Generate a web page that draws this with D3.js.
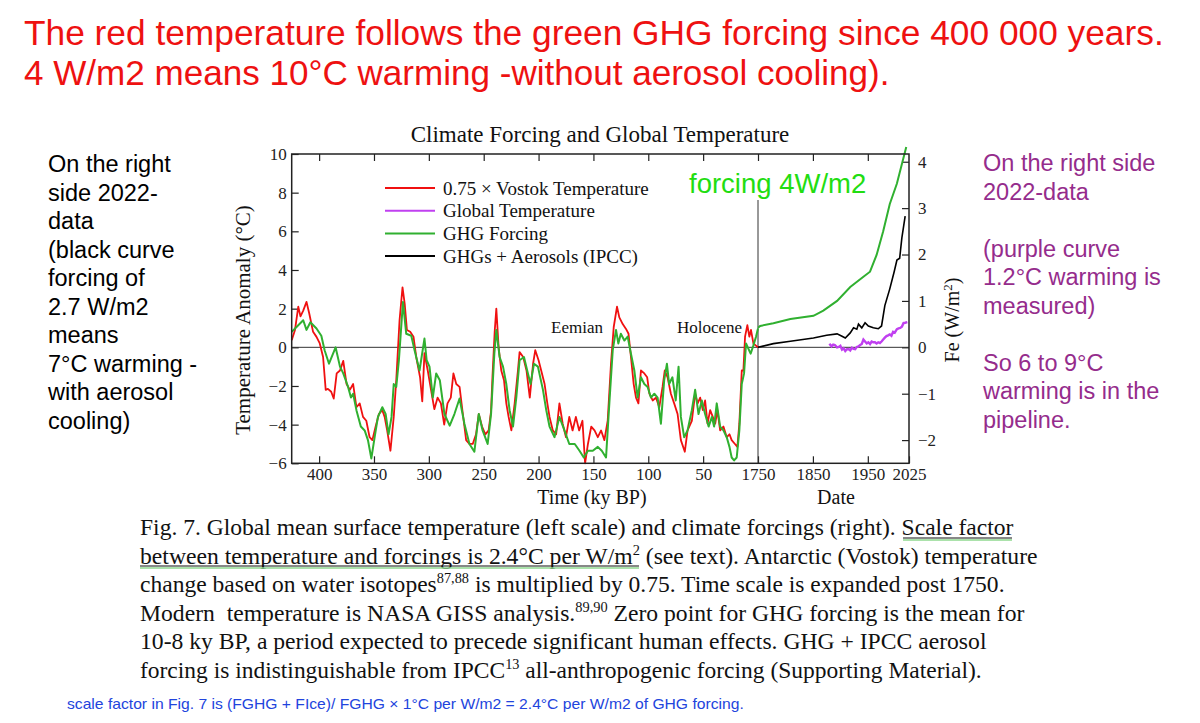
<!DOCTYPE html>
<html>
<head>
<meta charset="utf-8">
<script src="https://cdn.jsdelivr.net/npm/d3@7"></script>
<style>
  body { margin: 0; background: #fff; }
  svg { display: block; }
</style>
</head>
<body>
<div id="chart"></div>
<script>
// ---- data ----
// 0.75 x Vostok temperature (ky BP, degC)
const vostokKy = [425, 422, 419, 417, 414.5, 411.5, 409, 405.5, 402.4, 399.4, 396.4, 394, 392, 389, 386.7, 384, 381, 378, 375, 372,
  369, 366, 363, 360, 357, 354, 351.5, 348.5, 345.5, 342.4, 340.3, 338, 335, 332, 329.7, 326.7, 324, 322, 320, 317,
  314, 311.5, 308, 306, 304, 301, 298, 295, 292, 289, 286, 283, 280, 277.6, 275, 272, 269, 266, 263, 260,
  257, 254.5, 251.5, 248.5, 245.5, 243.3, 242, 240, 238.5, 236.4, 234, 231.5, 229.4, 227.3, 224.8, 221.8, 218.8, 217.3, 214, 211,
  208, 205, 203, 200, 197.6, 194.5, 192, 190, 187, 184, 181, 178, 175, 172, 169, 166, 163, 160, 157.6, 155,
  152, 149, 146, 143, 140, 137, 134, 131.5, 128.5, 126.4, 123.3, 120.3, 118, 115.8, 113.3, 111.2, 109, 106.7, 103.6, 101,
  99, 96, 93, 90, 87, 85, 82.4, 79.4, 76.4, 73.3, 70.3, 66.7, 64.2, 60.3, 57.3, 55, 52.7, 50.3, 48.2, 46,
  43.6, 41.2, 39, 37, 34.5, 31.5, 28.5, 26, 24, 21, 18.8, 17, 14.8, 13.3, 11.8, 9.7, 7.9, 6.4, 4.2, 2.1, 0];
const vostokTemp = [0.36, 0.9, 2.1, 1.6, 1.9, 2.35, 1.75, 0.8, 0.54, 0.2, -0.5, -2.2, -2.15, -2.3, -2.65, -1.35, -1.2, -0.7, -1.9, -2.2,
  -1.9, -3.1, -2.9, -3.6, -3.8, -4.65, -4.8, -4.1, -3.45, -3.25, -3.6, -4.3, -5.35, -3.6, -1.7, 1.4, 3.1, 2.25, 0.9, 0.8,
  0.55, -0.5, -1.55, -2.8, -0.3, -1.2, -2.2, -3.2, -2.6, -2.9, -4.0, -2.9, -2.6, -1.35, -1.9, -2.05, -3.45, -4.8, -5.0, -5.0,
  -4.5, -3.45, -4.1, -4.5, -4.3, -3.3, -1.5, 0.8, 2.0, 0, -1.2, -1.7, -2.9, -3.6, -4.3, -2.9, -1.2, -0.25, -0.5, -1.2,
  -2.6, -0.85, -0.15, -0.67, -1.2, -1.9, -2.9, -3.6, -4.3, -4.5, -2.9, -3.95, -4.65, -3.6, -4.3, -3.6, -4.3, -3.8, -6.0, -5.0,
  -4.1, -4.3, -4.65, -4.3, -4.8, -3.8, -0.85, 1.05, 2.1, 1.55, 1.2, 0.95, 0.7, -0.5, -1.9, -2.6, -2.9, -1.2, -1.35, -1.55,
  -2.4, -2.75, -2.6, -3.1, -2.05, -1.2, -1.55, -2.4, -2.9, -3.45, -4.8, -5.4, -4.3, -3.8, -2.4, -2.9, -2.6, -3.25, -2.75, -3.95,
  -3.25, -3.6, -3.95, -3.25, -4.3, -4.1, -4.65, -4.5, -4.8, -5.0, -5.15, -3.95, -1.2, -1.2, 0.55, 1.15, 0.55, 0.9, 0.2, 0.1, 0];

// GHG forcing before 1750, shown on the temperature scale (ky BP, degC equivalent)
const ghgPaleoKy = [425, 420.6, 414.5, 411.5, 408, 402.4, 398, 395, 391, 385, 381, 378, 373.6, 371, 369, 366, 362, 358.5, 355.5, 352.4,
  349.4, 346.4, 342.4, 339.4, 336.7, 334, 332, 329.7, 327.3, 323.6, 320.6, 316, 313, 308.5, 304, 302, 299.4, 296.4, 293.3, 290,
  285.8, 281, 276.7, 272, 267.6, 263, 258.5, 254.5, 251, 246.4, 243.3, 240.3, 238.5, 235.5, 232.4, 229.4, 226.4, 223.3, 220.3, 217.3,
  213.3, 209.7, 207.3, 204.2, 200.6, 196, 193, 190, 185.5, 181, 176.4, 172, 167, 162.7, 158.8, 155, 150.6, 146, 142.4, 138.5,
  135.5, 132.4, 129.4, 127.3, 125, 121.8, 118.8, 115.8, 112.7, 109.7, 106.7, 103.6, 100.6, 97.6, 94.5, 91.5, 88.5, 85.5, 83, 81,
  78, 75, 72.4, 70.3, 67.3, 64.2, 60.3, 57.3, 54.2, 51.2, 48.2, 45, 42, 40, 37.6, 34.5, 31.5, 28.5, 26, 24,
  21.8, 19.4, 17, 14.8, 12.7, 10.9, 8.8, 6.7, 4.2, 1.8, 0];
const ghgPaleoTemp = [0.8, 1.05, 1.4, 0.9, 1.3, 0.97, 0.6, -0.15, -0.85, 0, -1.0, -1.35, -2.05, -2.6, -2.4, -3.25, -4.1, -4.3, -4.8, -5.75,
  -4.65, -3.6, -3.1, -3.45, -4.5, -3.6, -1.9, -2.05, -0.67, 2.35, 0.7, 0.6, -0.15, -1.2, 0.45, -0.67, -1.0, -2.6, -1.35, -1.7,
  -3.45, -4.05, -3.45, -2.65, -3.95, -5.0, -5.4, -3.45, -4.3, -5.0, -3.45, -0.33, 0.9, -0.5, -1.0, -1.9, -3.25, -4.1, -2.6, -0.67,
  -0.5, -1.35, -1.9, -0.85, -1.0, -2.2, -3.25, -4.1, -4.65, -3.6, -4.3, -5.0, -5.0, -5.35, -5.7, -5.35, -5.35, -5.15, -5.35, -5.7,
  -2.9, -0.15, 0.9, 0.2, 0.7, 0.35, 0.55, -0.33, -1.2, -2.6, -1.55, -1.9, -2.05, -2.6, -2.4, -2.6, -3.95, -1.7, -0.85, -1.9,
  -1.55, -2.75, -1.0, -3.6, -4.65, -4.3, -3.25, -2.2, -3.45, -2.75, -3.45, -4.1, -3.6, -4.1, -2.9, -4.1, -4.3, -4.65, -5.15, -5.7,
  -5.85, -5.7, -4.3, -1.9, -1.35, 0.2, -0.07, -0.33, 0.1, 0.55, 0.97];

// after 1750 (year, W/m2)
const ghgYears = [1750, 1754, 1778, 1809, 1851, 1869, 1894, 1918, 1942, 1954, 1966, 1978, 1990, 2003, 2020];
const ghgForcing = [0.42, 0.46, 0.52, 0.61, 0.68, 0.79, 1.0, 1.3, 1.52, 1.63, 1.99, 2.5, 3.09, 3.53, 4.32];

const aeroYears = [1750, 1778, 1809, 1851, 1875, 1894, 1903, 1909, 1918, 1924, 1930, 1933, 1939, 1945, 1951, 1960, 1969, 1975,
  1981, 1990, 1998, 2003, 2008, 2012, 2018];
const aeroForcing = [0, 0.08, 0.13, 0.2, 0.26, 0.29, 0.24, 0.2, 0.31, 0.42, 0.39, 0.5, 0.42, 0.53, 0.46, 0.42, 0.4, 0.46,
  0.9, 1.26, 1.63, 1.88, 1.92, 2.36, 2.83];

// GISS global temperature (year, degC)
const gissYears = [1880, 1884, 1887, 1890, 1894, 1897, 1900, 1903, 1906, 1909, 1912, 1915, 1918, 1921, 1924, 1927, 1930, 1933,
  1936, 1939, 1942, 1945, 1948, 1951, 1954, 1957, 1960, 1963, 1966, 1969, 1972, 1975, 1978, 1981, 1984, 1987, 1990, 1993,
  1996, 1999, 2003, 2006, 2009, 2012, 2015, 2018, 2022];
const gissTemp = [0.19, 0.05, 0.14, 0.12, 0.0, 0.02, 0.08, -0.12, -0.05, -0.19, -0.1, -0.09, -0.16, -0.02, -0.08, -0.1, 0.02, 0.05,
  0.12, 0.17, 0.4, 0.3, 0.2, 0.26, 0.17, 0.3, 0.26, 0.26, 0.2, 0.26, 0.22, 0.3, 0.4, 0.5, 0.58, 0.62, 0.67, 0.6,
  0.8, 0.76, 0.94, 0.98, 1.0, 1.06, 1.25, 1.27, 1.3];

const paleoTicks = [400, 350, 300, 250, 200, 150, 100, 50];
const dateTicks = [1750, 1850, 1950, 2025];
const tempTicks = [10, 8, 6, 4, 2, 0, -2, -4, -6];
const forceTicks = [4, 3, 2, 1, 0, -1, -2];

const legendNames = ['0.75 \u00d7 Vostok Temperature', 'Global Temperature', 'GHG Forcing', 'GHGs + Aerosols (IPCC)'];
const legendColors = ['#f01010', '#c040f0', '#30b030', '#000000'];

const leftNote = ['On the right', 'side 2022-', 'data', '(black curve', 'forcing of', '2.7 W/m2', 'means',
  '7\u00b0C warming -', 'with aerosol', 'cooling)'];
const rightNote = ['On the right side', '2022-data', '', '(purple curve', '1.2\u00b0C warming is', 'measured)', '',
  'So 6 to 9\u00b0C', 'warming is in the', 'pipeline.'];

// ---- drawing ----
const W = 1200, H = 723;
const pL = 291.7, pR = 909, pT = 154, pB = 463.3, xBreak = 758;
const serif = '"Liberation Serif", "Times New Roman", serif';
const sans = '"Liberation Sans", Arial, sans-serif';

const svg = d3.select('#chart').append('svg').attr('width', W).attr('height', H);

const xPaleo = d3.scaleLinear().domain([425, 0]).range([pL, xBreak]);
const xDate = d3.scaleLinear().domain([1750, 2025]).range([xBreak, pR]);
const yTemp = d3.scaleLinear().domain([-6, 10]).range([pB, pT]);
const yForce = d3.scaleLinear().domain([-6 / 2.4, 10 / 2.4]).range([pB, pT]);

// squeeze a text horizontally so that it spans the given width
function fitText(t, x, y, width) {
  const natural = t.node().getComputedTextLength();
  t.attr('transform', `translate(${x},${y}) scale(${width / natural},1)`);
}

// headline
const head = svg.append('g').attr('fill', '#ee1111').attr('font-family', sans).attr('font-size', 35.5);
fitText(head.append('text').text('The red temperature follows the green GHG forcing since 400 000 years.'), 24, 45, 1140);
fitText(head.append('text').text('4 W/m2 means 10\u00b0C warming -without aerosol cooling).'), 24, 85, 866);

// side notes
svg.append('g').attr('font-family', sans).attr('font-size', 23.5).attr('fill', '#000')
  .selectAll('text').data(leftNote).join('text')
  .attr('x', 48).attr('y', (d, i) => 172 + i * 28.5).text(d => d);
svg.append('g').attr('font-family', sans).attr('font-size', 23.5).attr('fill', '#952c8c')
  .selectAll('text').data(rightNote).join('text')
  .attr('x', 983).attr('y', (d, i) => 171 + i * 28.5).text(d => d);

// title
svg.append('text').attr('x', 600).attr('y', 142).attr('text-anchor', 'middle')
  .attr('font-family', serif).attr('font-size', 23).attr('fill', '#111')
  .text('Climate Forcing and Global Temperature');

// axes
function styleAxis(g) {
  g.select('.domain').remove();
  g.selectAll('line').attr('stroke', '#222').attr('stroke-width', 1.2);
  g.selectAll('text').attr('font-family', serif).attr('font-size', 17).attr('fill', '#222');
}
svg.append('g').attr('transform', `translate(0,${pB})`)
  .call(d3.axisBottom(xPaleo).tickValues(paleoTicks).tickSize(-7).tickPadding(5)).call(styleAxis);
svg.append('g').attr('transform', `translate(0,${pB})`)
  .call(d3.axisBottom(xDate).tickValues(dateTicks).tickFormat(d3.format('d')).tickSize(-7).tickPadding(5)).call(styleAxis);
svg.append('g').attr('transform', `translate(0,${pT})`)
  .call(d3.axisTop(xPaleo).tickValues(paleoTicks).tickSize(-7).tickFormat('')).call(styleAxis);
svg.append('g').attr('transform', `translate(0,${pT})`)
  .call(d3.axisTop(xDate).tickValues(dateTicks.slice(0, 3)).tickSize(-7).tickFormat('')).call(styleAxis);
svg.append('g').attr('transform', `translate(${pL},0)`)
  .call(d3.axisLeft(yTemp).tickValues(tempTicks).tickSize(-7).tickPadding(5)).call(styleAxis);
svg.append('g').attr('transform', `translate(${pR},0)`)
  .call(d3.axisRight(yForce).tickValues(forceTicks).tickFormat(d3.format('d')).tickSize(-7).tickPadding(9)).call(styleAxis);

// reference lines
svg.append('line').attr('x1', pL).attr('x2', pR).attr('y1', yTemp(0)).attr('y2', yTemp(0))
  .attr('stroke', '#333').attr('stroke-width', 1);
svg.append('line').attr('x1', xBreak).attr('x2', xBreak).attr('y1', 200).attr('y2', pB)
  .attr('stroke', '#333').attr('stroke-width', 1);

// curves
const paleoLine = (ys) => d3.line().x(d => xPaleo(d)).y((d, i) => yTemp(ys[i]));
const dateLine = (ys, yScale) => d3.line().x(d => xDate(d)).y((d, i) => yScale(ys[i]));

svg.append('path').datum(vostokKy).attr('d', paleoLine(vostokTemp))
  .attr('fill', 'none').attr('stroke', legendColors[0]).attr('stroke-width', 1.8).attr('stroke-linejoin', 'round');
svg.append('path').datum(ghgPaleoKy).attr('d', paleoLine(ghgPaleoTemp))
  .attr('fill', 'none').attr('stroke', legendColors[2]).attr('stroke-width', 2).attr('stroke-linejoin', 'round');
svg.append('path').datum(ghgYears).attr('d', dateLine(ghgForcing, yForce))
  .attr('fill', 'none').attr('stroke', legendColors[2]).attr('stroke-width', 2);
svg.append('path').datum(aeroYears).attr('d', dateLine(aeroForcing, yForce))
  .attr('fill', 'none').attr('stroke', legendColors[3]).attr('stroke-width', 1.6);
svg.append('path').datum(gissYears).attr('d', dateLine(gissTemp, yTemp))
  .attr('fill', 'none').attr('stroke', legendColors[1]).attr('stroke-width', 2.4);

// frame
svg.append('rect').attr('x', pL).attr('y', pT).attr('width', pR - pL).attr('height', pB - pT)
  .attr('fill', 'none').attr('stroke', '#222').attr('stroke-width', 1.5);

// legend
const leg = svg.append('g').selectAll('g').data(legendNames).join('g')
  .attr('transform', (d, i) => `translate(385,${188 + i * 22.7})`);
leg.append('line').attr('x1', 0).attr('x2', 50).attr('stroke', (d, i) => legendColors[i]).attr('stroke-width', 2);
leg.append('text').attr('x', 58).attr('dy', '0.35em').attr('font-family', serif).attr('font-size', 19)
  .attr('fill', '#111').text(d => d);

svg.append('text').attr('x', 689).attr('y', 193).attr('font-family', sans).attr('font-size', 27.5)
  .attr('fill', '#22dd11').text('forcing 4W/m2');
svg.append('text').attr('x', 551).attr('y', 333).attr('font-family', serif).attr('font-size', 17)
  .attr('fill', '#111').text('Eemian');
svg.append('text').attr('x', 677).attr('y', 333).attr('font-family', serif).attr('font-size', 17)
  .attr('fill', '#111').text('Holocene');

// axis titles
svg.append('text').attr('x', 592).attr('y', 504).attr('text-anchor', 'middle').attr('font-family', serif)
  .attr('font-size', 20).attr('fill', '#111').text('Time (ky BP)');
svg.append('text').attr('x', 836).attr('y', 504).attr('text-anchor', 'middle').attr('font-family', serif)
  .attr('font-size', 20).attr('fill', '#111').text('Date');
svg.append('text').attr('transform', 'translate(250,320) rotate(-90)').attr('text-anchor', 'middle')
  .attr('font-family', serif).attr('font-size', 21).attr('fill', '#111').text('Temperature Anomaly (\u00b0C)');
const fe = svg.append('text').attr('transform', 'translate(959,320) rotate(-90)').attr('text-anchor', 'middle')
  .attr('font-family', serif).attr('font-size', 20).attr('fill', '#111');
fe.append('tspan').text('Fe (W/m');
fe.append('tspan').attr('dy', -7).attr('font-size', 13).text('2');
fe.append('tspan').attr('dy', 7).text(')');

// caption
const caption = [
  [['Fig. 7. Global mean surface temperature (left scale) and climate forcings (right). Scale factor']],
  [['between temperature and forcings is 2.4\u00b0C per W/m'], ['2', 1], [' (see text). Antarctic (Vostok) temperature']],
  [['change based on water isotopes'], ['87,88', 1], [' is multiplied by 0.75. Time scale is expanded post 1750.']],
  [['Modern  temperature is NASA GISS analysis.'], ['89,90', 1], [' Zero point for GHG forcing is the mean for']],
  [['10-8 ky BP, a period expected to precede significant human effects. GHG + IPCC aerosol']],
  [['forcing is indistinguishable from IPCC'], ['13', 1], [' all-anthropogenic forcing (Supporting Material).']]
];
const captionWidths = [874, 898, 865, 885, 847, 842];
caption.forEach((segs, i) => {
  const t = svg.append('text').attr('font-family', serif).attr('font-size', 23).attr('fill', '#111')
    .attr('xml:space', 'preserve');
  segs.forEach((s, j) => {
    if (s[1]) t.append('tspan').attr('dy', -9).attr('font-size', 14).text(s[0]);
    else t.append('tspan').attr('dy', j ? 9 : 0).text(s[0]);
  });
  fitText(t, 140, 535 + i * 28.5, captionWidths[i]);
});
// underlines
[[903, 1012, 538], [140, 639, 566]].forEach(u => {
  svg.append('line').attr('x1', u[0]).attr('x2', u[1]).attr('y1', u[2]).attr('y2', u[2])
    .attr('stroke', '#111').attr('stroke-width', 1);
  svg.append('line').attr('x1', u[0]).attr('x2', u[1]).attr('y1', u[2] + 2).attr('y2', u[2] + 2)
    .attr('stroke', '#8fd88f').attr('stroke-width', 1.5);
});

fitText(svg.append('text').attr('font-family', sans).attr('font-size', 15).attr('fill', '#2244dd')
  .text('scale factor in Fig. 7 is (FGHG + FIce)/ FGHG \u00d7 1\u00b0C per W/m2 = 2.4\u00b0C per W/m2 of GHG forcing.'),
  67, 709, 677);
</script>
</body>
</html>
